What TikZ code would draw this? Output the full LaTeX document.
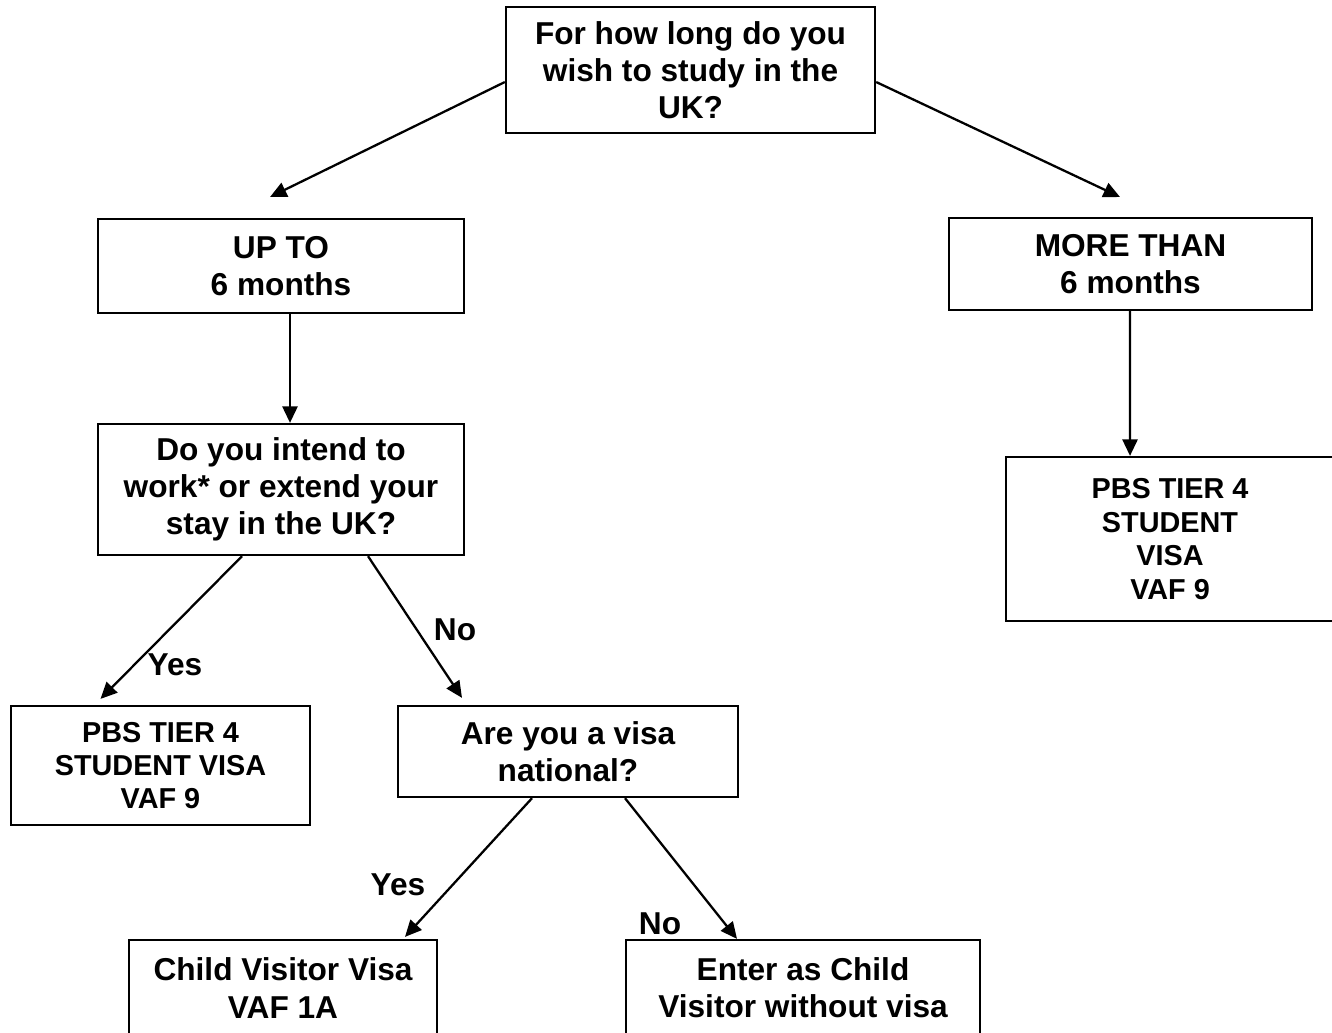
\documentclass[tikz,border=0pt]{standalone}
\usepackage{fontspec}
\setmainfont{Liberation Sans}
\usetikzlibrary{arrows.meta,calc}

\tikzset{
  box/.style={draw, line width=0.65pt, align=center, inner sep=0pt,
    font=\fontsize{9}{10.6}\selectfont\bfseries},
  small/.style={font=\fontsize{8.2}{9.5}\selectfont\bfseries},
  lbl/.style={font=\fontsize{9}{10.6}\selectfont\bfseries, inner sep=0pt},
  arr/.style={line width=0.65pt, -{Triangle[length=4.7pt,width=4.3pt]}}
}

\begin{document}
\begin{tikzpicture}
        \useasboundingbox (0,0) rectangle (13.32,-10.32);
        \node[box, minimum width=3.69cm, minimum height=1.26cm] (Q1) at (6.905,-0.70) {For how long do you\\wish to study in the\\UK?};
        \node[box, minimum width=3.66cm, minimum height=0.94cm] (UP) at (2.81,-2.66) {UP TO\\6 months};
        \node[box, minimum width=3.63cm, minimum height=0.92cm] (MORE) at (11.305,-2.64) {MORE THAN\\6 months};
        \node[box, minimum width=3.66cm, minimum height=1.31cm] (Q2) at (2.81,-4.895) {Do you intend to\\work* or extend your\\stay in the UK?};
        \node[box, small, minimum width=3.28cm, minimum height=1.64cm] (PBSR) at (11.70,-5.39) {PBS TIER 4\\STUDENT\\VISA\\VAF 9};
        \node[box, small, minimum width=2.99cm, minimum height=1.19cm] (PBSL) at (1.605,-7.655) {PBS TIER 4\\STUDENT VISA\\VAF 9};
        \node[box, minimum width=3.40cm, minimum height=0.91cm] (Q3) at (5.68,-7.515) {Are you a visa\\national?};
        \node[box, minimum width=3.08cm, minimum height=0.96cm] (CHILD) at (2.83,-9.88) {Child Visitor Visa\\VAF 1A};
        \node[box, minimum width=3.54cm, minimum height=0.96cm] (ENTER) at (8.03,-9.88) {Enter as Child\\Visitor without visa};

        \node[lbl] (YES1) at (1.75,-6.65) {Yes};
        \node[lbl] (NO1) at (4.55,-6.30) {No};
        \node[lbl] (YES2) at (3.98,-8.85) {Yes};
        \node[lbl] (NO2) at (6.60,-9.24) {No};

        % arrow ends that stop short of the boxes
        \coordinate (UPin) at (2.70,-1.97);
        \coordinate (MOREin) at (11.20,-1.97);

            \draw[arr] ([yshift=-0.12cm]Q1.west) -- (UPin);
            \draw[arr] ([yshift=-0.12cm]Q1.east) -- (MOREin);
            \draw[arr] ([xshift=0.09cm]UP.south) -- ([xshift=0.09cm]Q2.north);
            \draw[arr] ([xshift=-0.005cm]MORE.south) -- ([xshift=-0.40cm]PBSR.north);
            \draw[arr] ([xshift=-0.39cm]Q2.south) -- ([xshift=-0.60cm,yshift=0.06cm]PBSL.north);
            \draw[arr] ([xshift=0.87cm]Q2.south) -- ([xshift=-1.06cm,yshift=0.07cm]Q3.north);
            \draw[arr] ([xshift=-0.36cm]Q3.south) -- ([xshift=1.22cm,yshift=0.02cm]CHILD.north);
            \draw[arr] ([xshift=0.57cm]Q3.south) -- ([xshift=-0.66cm]ENTER.north);

    \end{tikzpicture}
\end{document}
